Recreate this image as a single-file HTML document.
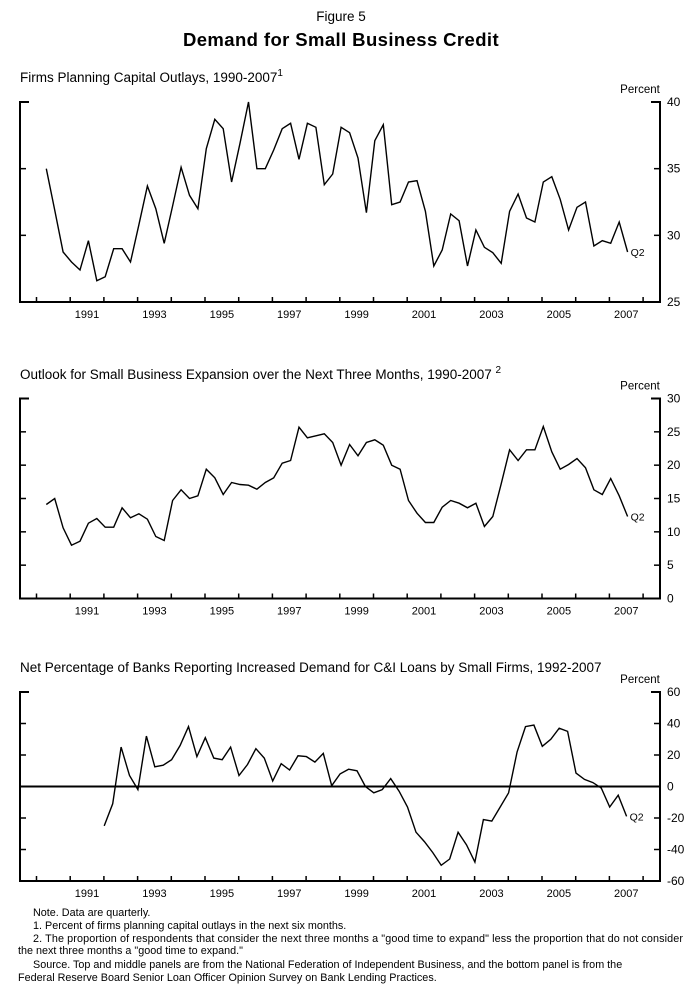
<!DOCTYPE html>
<html><head><meta charset="utf-8"><style>
body{margin:0;background:#fff;}
svg{display:block;font-family:"Liberation Sans",Arial,sans-serif;}
</style></head><body>
<svg id="fig" width="693" height="1002" viewBox="0 0 693 1002" xmlns="http://www.w3.org/2000/svg">
<text x="341" y="21" font-size="13.5" text-anchor="middle">Figure 5</text>
<text x="341" y="46" font-size="18.5" font-weight="bold" text-anchor="middle" letter-spacing="0.4">Demand for Small Business Credit</text>
<text x="20" y="82" font-size="13.5">Firms Planning Capital Outlays, 1990-2007<tspan font-size="10" dy="-6">1</tspan></text>
<text x="20" y="379" font-size="13.5">Outlook for Small Business Expansion over the Next Three Months, 1990-2007 <tspan font-size="10" dy="-6">2</tspan></text>
<text x="20" y="672" font-size="13.5">Net Percentage of Banks Reporting Increased Demand for C&amp;I Loans by Small Firms, 1992-2007</text>
<g font-size="10.8">
<text x="33" y="916">Note. Data are quarterly.</text>
<text x="33" y="929">1. Percent of firms planning capital outlays in the next six months.</text>
<text x="33" y="942" textLength="650">2. The proportion of respondents that consider the next three months a "good time to expand" less the proportion that do not consider</text>
<text x="18" y="954">the next three months a "good time to expand."</text>
<text x="33" y="968">Source. Top and middle panels are from the National Federation of Independent Business, and the bottom panel is from the</text>
<text x="18" y="981">Federal Reserve Board Senior Loan Officer Opinion Survey on Bank Lending Practices.</text>
</g>
</svg>
<script>
const yearTicks=[1990,1991,1992,1993,1994,1995,1996,1997,1998,1999,2000,2001,2002,2003,2004,2005,2006,2007,2008];
const yearLabels=["1991","1993","1995","1997","1999","2001","2003","2005","2007"];
const p1Start=1990.29;
const p1Values=[35.0,31.9,28.75,28.0,27.4,29.6,26.6,26.9,29.0,29.0,28.0,30.8,33.7,32.0,29.4,32.2,35.1,33.0,32.0,36.5,38.7,38.0,34.0,36.9,40.0,35.0,35.0,36.4,38.0,38.4,35.7,38.4,38.1,33.8,34.6,38.1,37.7,35.8,31.7,37.1,38.3,32.3,32.5,34.0,34.1,31.8,27.7,28.9,31.6,31.1,27.7,30.4,29.1,28.7,27.9,31.8,33.1,31.3,31.0,34.0,34.4,32.7,30.4,32.1,32.5,29.2,29.6,29.4,31.0,28.75];
const p1Ticks=[25,30,35,40];
const p2Start=1990.29;
const p2Values=[14.1,15.0,10.6,8.0,8.6,11.3,12.0,10.7,10.7,13.6,12.1,12.7,11.9,9.3,8.7,14.7,16.3,15.0,15.4,19.4,18.1,15.6,17.4,17.1,17.0,16.4,17.4,18.1,20.3,20.7,25.7,24.1,24.4,24.7,23.4,20.0,23.1,21.4,23.4,23.8,23.0,20.0,19.4,14.7,12.8,11.4,11.4,13.7,14.7,14.3,13.6,14.3,10.8,12.3,17.2,22.3,20.7,22.3,22.3,25.8,22.0,19.4,20.1,21.0,19.6,16.3,15.6,18.0,15.4,12.3];
const p2Ticks=[0,5,10,15,20,25,30];
const p3Start=1992.01;
const p3Values=[-25,-11,25,7,-2,32,12.5,13.5,17,26,38,19,31,18,17,25,7,14,24,18,3.5,14.5,10.5,19.5,19,15.5,21,0.5,8,11,10,0,-4,-2,5,-3,-13,-29,-35,-42,-50,-46,-29,-37,-48,-21,-22,-13,-4,22,38,39,25.5,30,37,35,8.5,4.5,2.5,-1,-13,-5.5,-19];
const p3Ticks=[-60,-40,-20,0,20,40,60];
const p3TickLabels=["-60","-40","-20","0","20","40","60"];

const NS="http://www.w3.org/2000/svg";
const svg=document.getElementById('fig');
const X0=20,X1=660;
function xs(t){return 36.5+(t-1990)*33.7;}
function mk(tag,attrs,parent){const e=document.createElementNS(NS,tag);for(const k in attrs)e.setAttribute(k,attrs[k]);(parent||svg).appendChild(e);return e;}
function panel(id,top,bot,min,max,ticks,labels,start,vals,zero){
  const g=mk('g',{});
  
  
  const ys=v=>bot-(v-min)/(max-min)*(bot-top);
  const frame=mk('path',{d:`M${X0+9},${top} H${X0} V${bot} H${X1} V${top} H${X1-9}`,fill:'none',stroke:'#000','stroke-width':2},g);
  
  
  ticks.forEach((v,i)=>{
    const y=ys(v);
    if(v!==min&&v!==max){
      const tl=mk('line',{x1:X0,x2:X0+6,y1:y,y2:y,stroke:'#000','stroke-width':1.5},g);
      
      
      const tr=mk('line',{x1:X1-6,x2:X1,y1:y,y2:y,stroke:'#000','stroke-width':1.5},g);
      
      
    }
    const t=mk('text',{x:667,y:y+4,'font-size':12},g);
    t.textContent=labels?labels[i]:String(v);
    
    
  });
  const pc=mk('text',{x:640,y:top-9,'font-size':11.5,'text-anchor':'middle'},g);
  pc.textContent='Percent';
  
  
  yearTicks.forEach(yr=>{
    const x=xs(yr);
    const l=mk('line',{x1:x,x2:x,y1:bot,y2:bot-5,stroke:'#000','stroke-width':1.5},g);
    
    
  });
  yearLabels.forEach(s=>{
    const t=mk('text',{x:xs(+s+0.5),y:bot+16,'font-size':11,'text-anchor':'middle'},g);
    t.textContent=s;
    
    
  });
  if(zero){
    const z=mk('line',{x1:X0,x2:X1,y1:ys(0),y2:ys(0),stroke:'#000','stroke-width':2},g);
    
    
  }
  const pts=vals.map((v,i)=>[xs(start+i*0.25),ys(v)]);
  const line=mk('polyline',{points:pts.map(p=>p[0].toFixed(1)+','+p[1].toFixed(1)).join(' '),fill:'none',stroke:'#000','stroke-width':1.4,'stroke-linejoin':'miter'},g);
  
  
  const last=pts[pts.length-1];
  const q=mk('text',{x:last[0]+3,y:last[1]+4,'font-size':10.5},g);
  q.textContent='Q2';
  
  
}
panel('panel1-capital-outlays',102,302,25,40,p1Ticks,null,p1Start,p1Values,false);
panel('panel2-expansion-outlook',398.5,598.5,0,30,p2Ticks,null,p2Start,p2Values,false);
panel('panel3-loan-demand',692,881,-60,60,p3Ticks,p3TickLabels,p3Start,p3Values,true);
</script>
</body></html>
